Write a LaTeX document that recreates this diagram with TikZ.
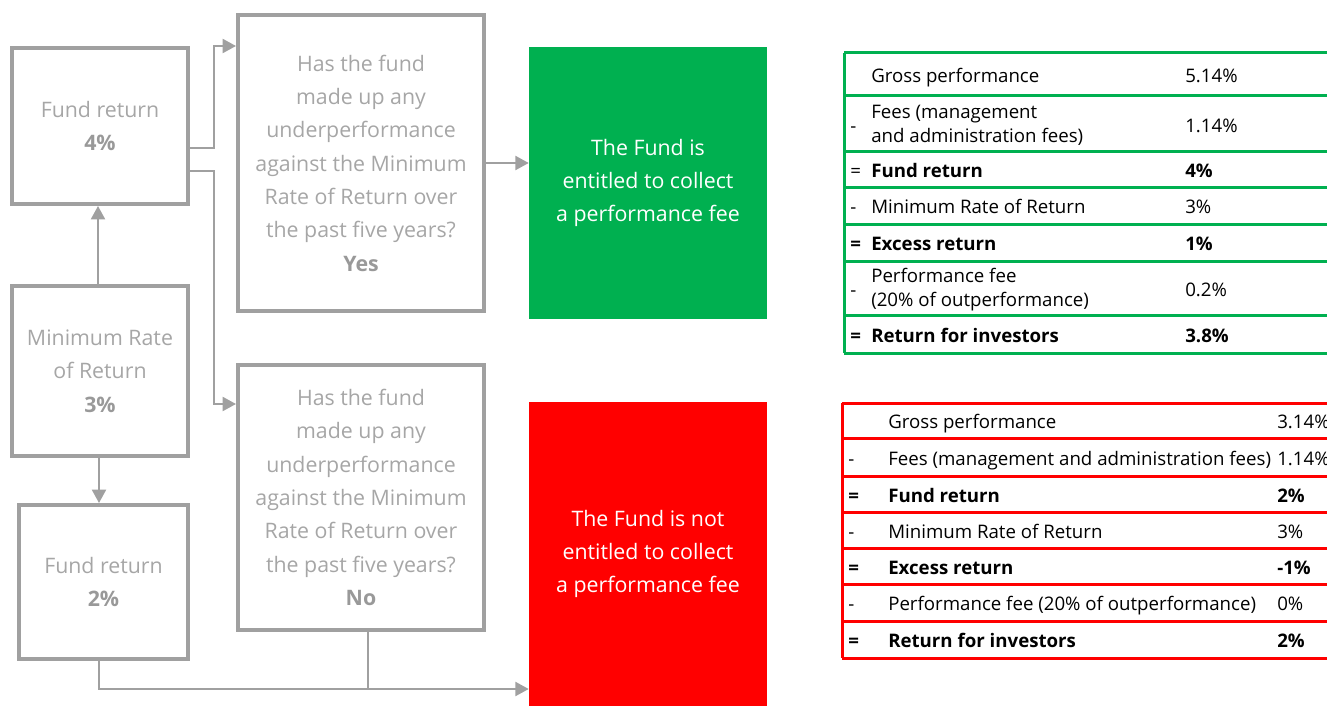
\documentclass[tikz,border=0pt]{standalone}
\usepackage{fontspec}
\setmainfont{Open Sans}
\usetikzlibrary{arrows.meta,positioning}
\definecolor{boxgray}{HTML}{A0A0A0}
\definecolor{txtgray}{HTML}{A6A6A6}
\definecolor{numgray}{HTML}{999999}
\definecolor{okgreen}{HTML}{00B050}
\definecolor{nored}{HTML}{FF0000}
\tikzset{
  stepbox/.style={draw=boxgray,line width=3pt,inner sep=0pt,text=txtgray,
    align=center,font=\fontsize{16}{25}\selectfont},
  verdict/.style={inner sep=0pt,text=white,align=center,
    font=\fontsize{16}{25}\selectfont},
  flow/.style={draw=boxgray,line width=1.5pt,-{Triangle[length=10pt,width=10.5pt]}},
  link/.style={draw=boxgray,line width=1.5pt},
  cell/.style={anchor=west,inner sep=0pt,align=left,yshift=-2.5pt,
    execute at begin node=\strut,execute at end node=\strut,
    font=\fontsize{14}{18}\selectfont},
  bcell/.style={cell,font=\fontsize{14}{18}\selectfont\bfseries},
}
\begin{document}
\begin{tikzpicture}[x=0.75pt,y=-0.75pt]
      \useasboundingbox (0,0) rectangle (1327,706);
      % left column
      \node (fa) at (100,126) [stepbox,minimum width=132pt,minimum height=117pt]
        {Fund return\\{\color{numgray}\bfseries 4\%}};
      \node (fb) at (100,371) [stepbox,minimum width=132pt,minimum height=127.5pt]
        {Minimum Rate\\of Return\\{\color{numgray}\bfseries 3\%}};
      \node (fc) at (103.5,582) [stepbox,minimum width=126.75pt,minimum height=115.5pt]
        {Fund return\\{\color{numgray}\bfseries 2\%}};
      % questions
      \node (qy) at (361,163) [stepbox,minimum width=184.5pt,minimum height=222pt]
        {Has the fund\\made up any\\underperformance\\against the Minimum\\Rate of Return over\\the past five years?\\{\color{numgray}\bfseries Yes}};
      \node (qn) at (361,497.5) [stepbox,minimum width=184.5pt,minimum height=198.75pt]
        {Has the fund\\made up any\\underperformance\\against the Minimum\\Rate of Return over\\the past five years?\\{\color{numgray}\bfseries No}};
      % verdicts
      \node (gr) at (648,183) [verdict,fill=okgreen,minimum width=178.5pt,minimum height=203.25pt]
        {The Fund is\\entitled to collect\\a performance fee};
      \node (rd) at (648,554) [verdict,fill=nored,minimum width=178.5pt,minimum height=228pt]
        {The Fund is not\\entitled to collect\\a performance fee};
      % connectors
      \coordinate (ja) at (214,148) ;
      \coordinate (jb) at (214,171) ;
      \coordinate (jy) at (214,46) ;
      \coordinate (jn) at (214,404) ;
      \coordinate (jc) at (99,689) ;
      \coordinate (jq) at (368,689) ;
      \draw[flow] (fa.east |- ja) -- (ja) -- (jy) -- (qy.west |- jy);
      \draw[flow] (fa.east |- jb) -- (jb) -- (jn) -- (qn.west |- jn);
      \draw[flow] (qy.east) -- (qy.east -| gr.west);
      \draw[flow] (fb.north -| 98,0) -- (fa.south -| 98,0);
      \draw[flow] (fb.south -| 99,0) -- (fc.north -| 99,0);
      \draw[flow] (fc.south -| jc) -- (jc) -- (rd.west |- jc);
      \draw[link] (qn.south -| jq) -- (jq);
      % green table
      \foreach \y in {53,96,152,187,224,261,315,353}
        \draw[okgreen,line width=2.25pt] (844,\y) -- (1327,\y);
      \draw[okgreen,line width=2.25pt] (844,53) -- (844,353);
      \node[cell] (g1) at (871,74.5) {Gross performance};
      \node[cell] at (1185,74.5) {5.14\%};
      \node[cell] at (850,124) {-};
      \node[cell] (g2) at (871,124) {Fees (management\\and administration fees)};
      \node[cell] at (1185,124) {1.14\%};
      \node[cell] at (850,169.5) {=};
      \node[bcell] (g3) at (871,169.5) {Fund return};
      \node[bcell] at (1185,169.5) {4\%};
      \node[cell] at (850,205.5) {-};
      \node[cell] (g4) at (871,205.5) {Minimum Rate of Return};
      \node[cell] at (1185,205.5) {3\%};
      \node[bcell] at (850,242.5) {=};
      \node[bcell] (g5) at (871,242.5) {Excess return};
      \node[bcell] at (1185,242.5) {1\%};
      \node[cell] at (850,288) {-};
      \node[cell] (g6) at (871,288) {Performance fee\\(20\% of outperformance)};
      \node[cell] at (1185,288) {0.2\%};
      \node[bcell] at (850,334) {=};
      \node[bcell] (g7) at (871,334) {Return for investors};
      \node[bcell] at (1185,334) {3.8\%};
      % red table
      \foreach \y in {403,438,476,512,548,584,621,658}
        \draw[nored,line width=2.25pt] (842,\y) -- (1327,\y);
      \draw[nored,line width=2.25pt] (842,403) -- (842,658);
      \node[cell] (r1) at (888,420.5) {Gross performance};
      \node[cell] at (1277,420.5) {3.14\%};
      \node[cell] at (848,457) {-};
      \node[cell] (r2) at (888,457) {Fees (management and administration fees)};
      \node[cell] at (1277,457) {1.14\%};
      \node[bcell] at (848,494) {=};
      \node[bcell] (r3) at (888,494) {Fund return};
      \node[bcell] at (1277,494) {2\%};
      \node[cell] at (848,530) {-};
      \node[cell] (r4) at (888,530) {Minimum Rate of Return};
      \node[cell] at (1277,530) {3\%};
      \node[bcell] at (848,566) {=};
      \node[bcell] (r5) at (888,566) {Excess return};
      \node[bcell] at (1277,566) {-1\%};
      \node[cell] at (848,602.5) {-};
      \node[cell] (r6) at (888,602.5) {Performance fee (20\% of outperformance)};
      \node[cell] at (1277,602.5) {0\%};
      \node[bcell] at (848,639.5) {=};
      \node[bcell] (r7) at (888,639.5) {Return for investors};
      \node[bcell] at (1277,639.5) {2\%};
\end{tikzpicture}
\end{document}
